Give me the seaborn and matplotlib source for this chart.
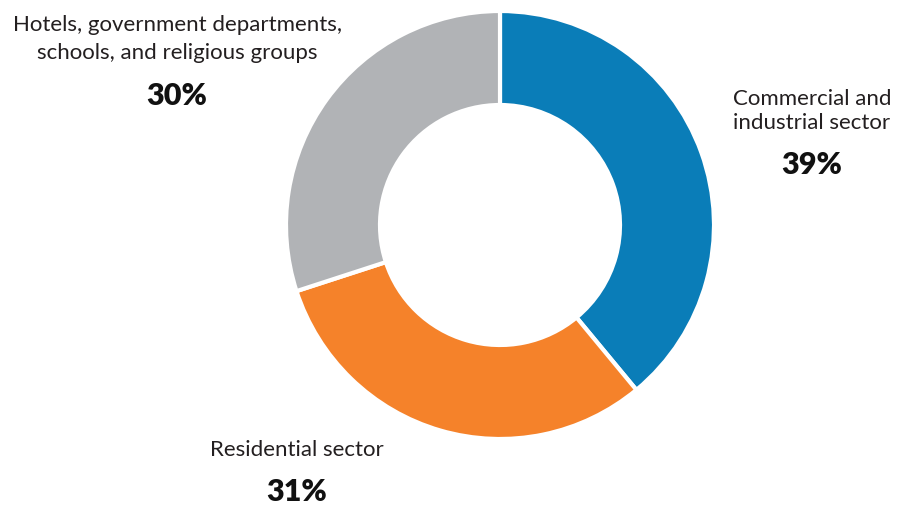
import matplotlib
matplotlib.use("Agg")
import matplotlib.pyplot as plt
import seaborn as sns

sectors = ["Commercial and\nindustrial sector", "Residential sector",
           "Hotels, government departments,\nschools, and religious groups"]
shares = [39, 31, 30]
colors = ["#0A7DB8", "#F5822A", "#B1B3B6"]

sns.set_theme(style="white")
plt.rcParams["font.family"] = ["Lato", "DejaVu Sans"]

W, H = 897, 505
fig = plt.figure(figsize=(W / 100, H / 100), dpi=100)
ax = fig.add_axes([0, 0, 1, 1])

ax.pie(shares, colors=sns.color_palette(colors), center=(500, H - 225), radius=214,
       startangle=90, counterclock=False,
       wedgeprops=dict(width=94, edgecolor="white", linewidth=3))
ax.set_xlim(0, W)
ax.set_ylim(0, H)
ax.set_aspect("equal")
ax.axis("off")

txt = "#231F20"
# label positions (pixel centres, y from top) and line spacing
label_pos = [(812, 111, 165, 1.3), (297, 450, 492, 1.3), (177, 39, 96, 1.5)]
for name, val, (x, y_name, y_val, ls) in zip(sectors, shares, label_pos):
    ax.text(x, H - y_name, name, ha="center", va="center", fontsize=16,
            color=txt, linespacing=ls)
    ax.text(x, H - y_val, f"{val}%", ha="center", va="center", fontsize=22,
            fontweight="heavy", color="#111111")

fig.savefig("out.png", dpi=100)
